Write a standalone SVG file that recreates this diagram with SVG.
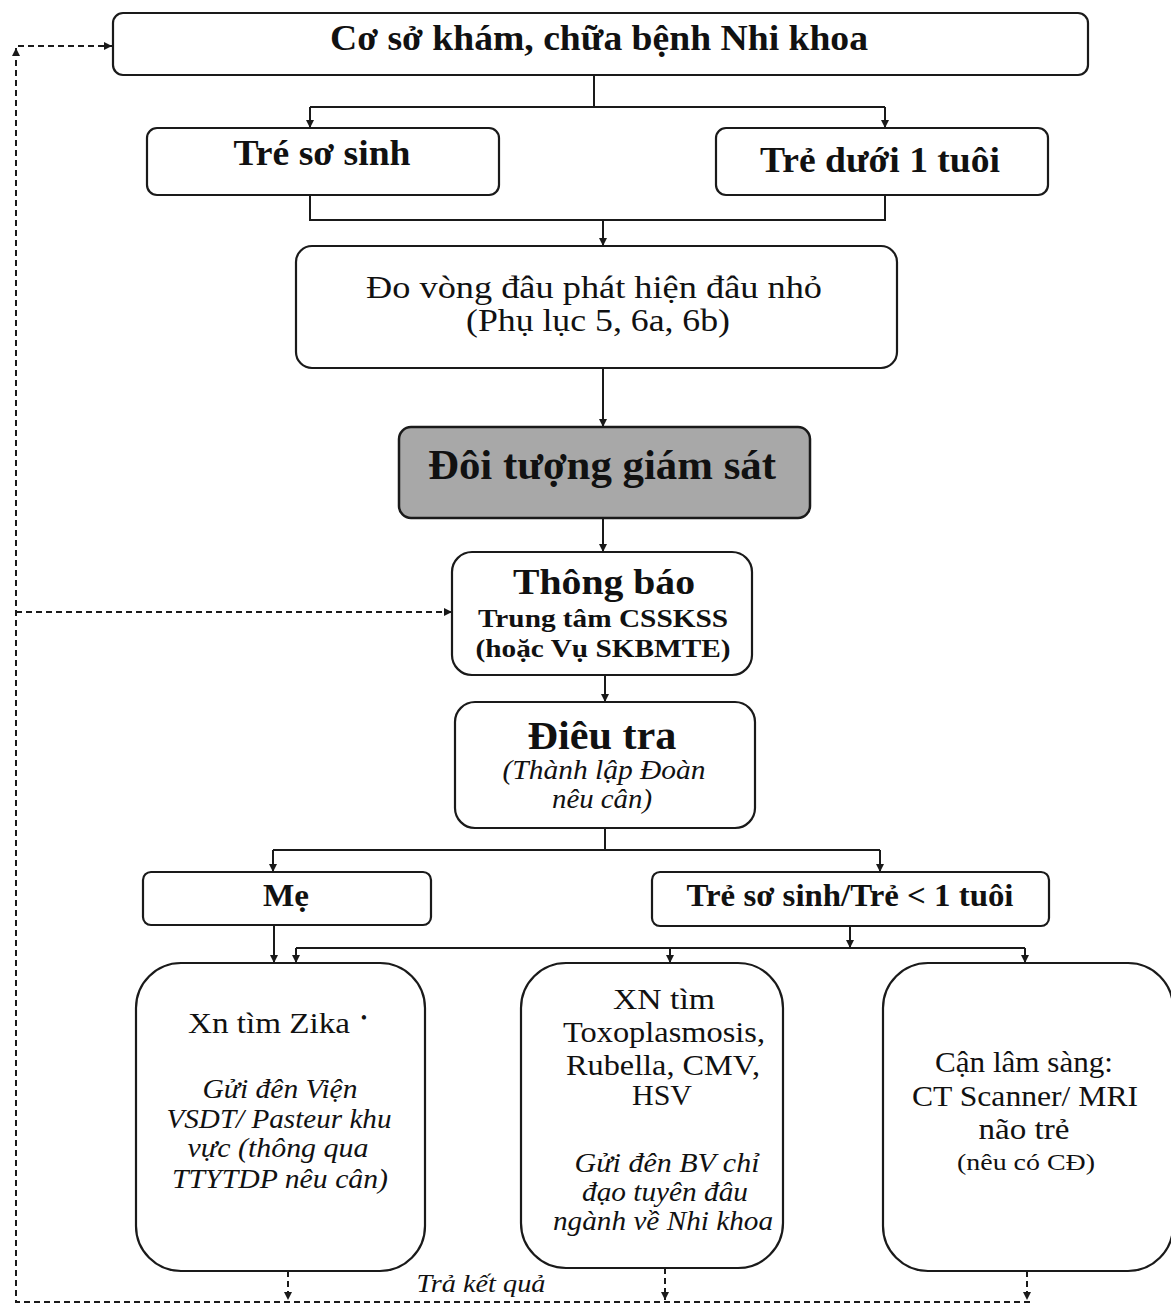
<svg xmlns="http://www.w3.org/2000/svg" width="1171" height="1306" viewBox="0 0 1171 1306">
<style>
.box{fill:#fff;stroke:#1a1a1a;stroke-width:2.2}
.grey{fill:#a8a8a8;stroke:#1a1a1a;stroke-width:2.5}
.ln{fill:none;stroke:#1a1a1a;stroke-width:2}
.dash{fill:none;stroke:#1a1a1a;stroke-width:2;stroke-dasharray:6,4}
text{font-family:"Liberation Serif","Times New Roman",serif;fill:#111;text-anchor:middle}
.b{font-weight:bold}
.i{font-style:italic}
</style>
<defs>
<marker id="ar" markerWidth="10" markerHeight="10" refX="9" refY="5" orient="auto" markerUnits="userSpaceOnUse">
<path d="M1,1 L9,5 L1,9 Z" fill="#1a1a1a"/>
</marker>
</defs>
<rect width="1171" height="1306" fill="#fff"/>

<g id="connectors">
<path class="ln" d="M594,75 V107 M310,107 H885"/>
<path class="ln" d="M310,107 V128" marker-end="url(#ar)"/>
<path class="ln" d="M885,107 V128" marker-end="url(#ar)"/>
<path class="ln" d="M310,195 V220 H885 V195"/>
<path class="ln" d="M603,220 V246" marker-end="url(#ar)"/>
<path class="ln" d="M603,368 V427" marker-end="url(#ar)"/>
<path class="ln" d="M603,518 V552" marker-end="url(#ar)"/>
<path class="ln" d="M605,675 V702" marker-end="url(#ar)"/>
<path class="ln" d="M605,828 V850 M273,850 H880"/>
<path class="ln" d="M273,850 V872" marker-end="url(#ar)"/>
<path class="ln" d="M880,850 V872" marker-end="url(#ar)"/>
<path class="ln" d="M274,925 V963" marker-end="url(#ar)"/>
<path class="ln" d="M850,926 V948" marker-end="url(#ar)"/>
<path class="ln" d="M296,948 H1025"/>
<path class="ln" d="M296,948 V963" marker-end="url(#ar)"/>
<path class="ln" d="M670,948 V963" marker-end="url(#ar)"/>
<path class="ln" d="M1025,948 V963" marker-end="url(#ar)"/>
<path class="dash" d="M288,1271 V1300" marker-end="url(#ar)"/>
<path class="dash" d="M665,1268 V1300" marker-end="url(#ar)"/>
<path class="dash" d="M1027,1271 V1300" marker-end="url(#ar)"/>
<path class="dash" d="M1030,1302 H16 V50"/>
<path class="ln" d="M16,56 V48" marker-end="url(#ar)"/>
<path class="dash" d="M18,46 H112" marker-end="url(#ar)"/>
<path class="dash" d="M16,612 H452" marker-end="url(#ar)"/>
<text class="i" x="481" y="1292" font-size="26" textLength="129" lengthAdjust="spacingAndGlyphs">Trả kết quả</text>
</g>

<g id="n1">
<rect class="box" x="113" y="13" width="975" height="62" rx="10"/>
<text class="b" x="599" y="50" font-size="36" textLength="538" lengthAdjust="spacingAndGlyphs">Cơ sở khám, chữa bệnh Nhi khoa</text>
</g>
<g id="n2">
<rect class="box" x="147" y="128" width="352" height="67" rx="10"/>
<text class="b" x="322" y="165" font-size="36" textLength="177" lengthAdjust="spacingAndGlyphs">Tré sơ sinh</text>
</g>
<g id="n3">
<rect class="box" x="716" y="128" width="332" height="67" rx="10"/>
<text class="b" x="880" y="172" font-size="36" textLength="240" lengthAdjust="spacingAndGlyphs">Trẻ dưới 1 tuôi</text>
</g>
<g id="n4">
<rect class="box" x="296" y="246" width="601" height="122" rx="16"/>
<text x="594" y="298" font-size="32" textLength="456" lengthAdjust="spacingAndGlyphs">Đo vòng đâu phát hiện đâu nhỏ</text>
<text x="598" y="331" font-size="32" textLength="264" lengthAdjust="spacingAndGlyphs">(Phụ lục 5, 6a, 6b)</text>
</g>
<g id="n5">
<rect class="grey" x="399" y="427" width="411" height="91" rx="12"/>
<text class="b" x="602" y="479" font-size="42" textLength="348" lengthAdjust="spacingAndGlyphs">Đôi tượng giám sát</text>
</g>
<g id="n6">
<rect class="box" x="452" y="552" width="300" height="123" rx="20"/>
<text class="b" x="604" y="594" font-size="36" textLength="182" lengthAdjust="spacingAndGlyphs">Thông báo</text>
<text class="b" x="603" y="627" font-size="26" textLength="250" lengthAdjust="spacingAndGlyphs">Trung tâm CSSKSS</text>
<text class="b" x="603" y="657" font-size="26" textLength="255" lengthAdjust="spacingAndGlyphs">(hoặc Vụ SKBMTE)</text>
</g>
<g id="n7">
<rect class="box" x="455" y="702" width="300" height="126" rx="20"/>
<text class="b" x="602" y="749" font-size="40" textLength="149" lengthAdjust="spacingAndGlyphs">Điêu tra</text>
<text class="i" x="604" y="779" font-size="27" textLength="203" lengthAdjust="spacingAndGlyphs">(Thành lập Đoàn</text>
<text class="i" x="602" y="808" font-size="27" textLength="100" lengthAdjust="spacingAndGlyphs">nêu cân)</text>
</g>
<g id="n8">
<rect class="box" x="143" y="872" width="288" height="53" rx="8"/>
<text class="b" x="286" y="906" font-size="31" textLength="46" lengthAdjust="spacingAndGlyphs">Mẹ</text>
</g>
<g id="n9">
<rect class="box" x="652" y="872" width="397" height="54" rx="8"/>
<text class="b" x="850" y="906" font-size="31" textLength="327" lengthAdjust="spacingAndGlyphs">Trẻ sơ sinh/Trẻ &lt; 1 tuôi</text>
</g>
<g id="n10">
<rect class="box" x="136" y="963" width="289" height="308" rx="45"/>
<text x="269" y="1033" font-size="30" textLength="162" lengthAdjust="spacingAndGlyphs">Xn tìm Zika</text>
<text x="364" y="1024" font-size="18">•</text>
<text class="i" x="280" y="1098" font-size="27" textLength="155" lengthAdjust="spacingAndGlyphs">Gửi đên Viện</text>
<text class="i" x="279" y="1128" font-size="27" textLength="225" lengthAdjust="spacingAndGlyphs">VSDT/ Pasteur khu</text>
<text class="i" x="278" y="1157" font-size="27" textLength="181" lengthAdjust="spacingAndGlyphs">vực (thông qua</text>
<text class="i" x="280" y="1188" font-size="27" textLength="216" lengthAdjust="spacingAndGlyphs">TTYTDP nêu cân)</text>
</g>
<g id="n11">
<rect class="box" x="521" y="963" width="262" height="305" rx="45"/>
<text x="664" y="1009" font-size="30" textLength="102" lengthAdjust="spacingAndGlyphs">XN tìm</text>
<text x="664" y="1042" font-size="30" textLength="202" lengthAdjust="spacingAndGlyphs">Toxoplasmosis,</text>
<text x="663" y="1075" font-size="30" textLength="194" lengthAdjust="spacingAndGlyphs">Rubella, CMV,</text>
<text x="662" y="1105" font-size="30" textLength="60" lengthAdjust="spacingAndGlyphs">HSV</text>
<text class="i" x="667" y="1172" font-size="27" textLength="185" lengthAdjust="spacingAndGlyphs">Gửi đên BV chỉ</text>
<text class="i" x="665" y="1201" font-size="27" textLength="166" lengthAdjust="spacingAndGlyphs">đạo tuyên đâu</text>
<text class="i" x="663" y="1230" font-size="27" textLength="220" lengthAdjust="spacingAndGlyphs">ngành về Nhi khoa</text>
</g>
<g id="n12">
<rect class="box" x="883" y="963" width="290" height="308" rx="45"/>
<text x="1024" y="1072" font-size="29" textLength="178" lengthAdjust="spacingAndGlyphs">Cận lâm sàng:</text>
<text x="1025" y="1106" font-size="29" textLength="226" lengthAdjust="spacingAndGlyphs">CT Scanner/ MRI</text>
<text x="1024" y="1139" font-size="29" textLength="91" lengthAdjust="spacingAndGlyphs">não trẻ</text>
<text x="1026" y="1170" font-size="23" textLength="138" lengthAdjust="spacingAndGlyphs">(nêu có CĐ)</text>
</g>
</svg>
